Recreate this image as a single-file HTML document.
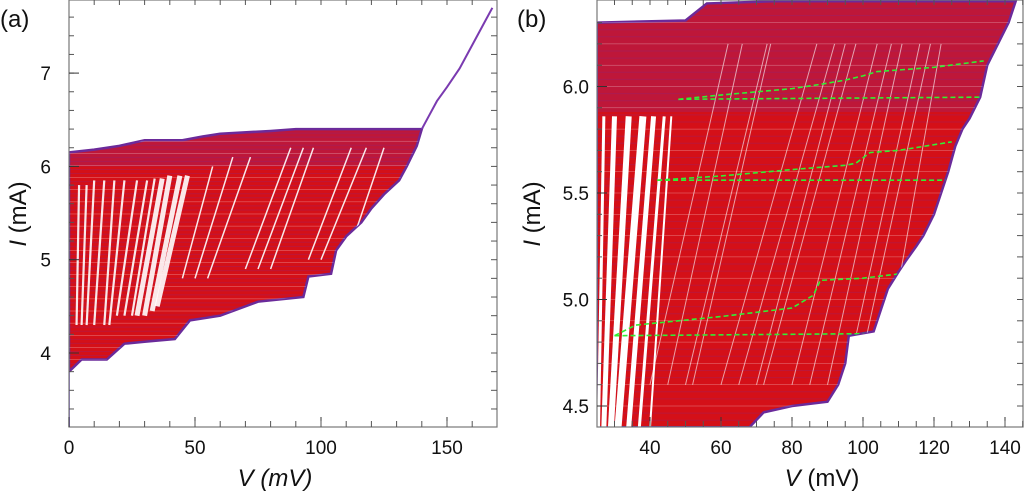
<!DOCTYPE html>
<html><head><meta charset="utf-8">
<style>
body{margin:0;background:#fff;width:1024px;height:496px;overflow:hidden;font-family:"Liberation Sans",sans-serif}
svg{display:block}
text{font-family:"Liberation Sans",sans-serif;fill:#111}
</style></head>
<body>
<svg id="s" width="1024" height="496" viewBox="0 0 1024 496">
<defs>
<clipPath id="ca"><rect x="69" y="0" width="428" height="427"/></clipPath>
<clipPath id="cb"><rect x="597" y="0" width="426" height="427"/></clipPath>
</defs>
<g id="pa"></g>
<g id="pb"></g>
</svg>
<script>
// ---- Panel (a) data ----
const aXTicks=[0,50,100,150];
const aYTicks=[4,5,6,7];
const aRegionV=[0,10,20,30,45,53,60,80,90,140,138,134,131,125,120,116,110,106,104,95,93,75,60,48,42,30,22,15,5,0];
const aRegionI=[6.15,6.18,6.22,6.28,6.28,6.32,6.35,6.38,6.4,6.4,6.22,6.0,5.85,5.7,5.55,5.4,5.25,5.1,4.85,4.82,4.6,4.55,4.4,4.35,4.15,4.12,4.1,3.93,3.93,3.8];
const aTailV=[140,143,146,150,155,160,165,168];
const aTailI=[6.4,6.55,6.7,6.85,7.05,7.3,7.55,7.7];
const aStripeTopV=[4,7,10,14,18,22,27,31,34,37,40,44,47,57,65,72,88,93,97,112,118,125];
const aStripeBotV=[3,5,7,10,14,16,19,22,25,27,30,33,35,45,50,55,70,75,80,95,100,110];
const aStripeTopI=[5.8,5.8,5.85,5.85,5.85,5.85,5.85,5.85,5.87,5.87,5.9,5.9,5.9,6.0,6.1,6.1,6.2,6.2,6.2,6.2,6.2,6.2];
const aStripeBotI=[4.3,4.3,4.3,4.3,4.3,4.3,4.4,4.4,4.4,4.4,4.4,4.45,4.5,4.8,4.8,4.8,4.9,4.9,4.9,5.0,5.0,5.0];
// ---- Panel (b) data ----
const bXTicks=[40,60,80,100,120,140];
const bYTicks=[4.5,5.0,5.5,6.0];
const bRegionV=[25,50,56,75,90,100,143,141,138,135,133,130,128,126,124,122,120,117,115,112,110,107,105,103,96,95,93,90,80,72,68,25];
const bRegionI=[6.3,6.31,6.39,6.4,6.4,6.4,6.4,6.3,6.2,6.1,5.95,5.85,5.8,5.72,5.6,5.5,5.4,5.3,5.25,5.18,5.13,5.05,4.95,4.85,4.83,4.7,4.6,4.52,4.5,4.47,4.4,4.4];
const bGapTopV=[27,30,34,38,41,44,46];
const bGapBotV=[25.5,27,29,31,34,37,40];
const bGapW=[3,5,6,7,5,3,2];
const bThinTopV=[62,66,73,74,87,92,95,98,104,108,111,116,119,122];
const bThinBotV=[40,45,50,52,60,65,70,72,80,85,90,95,98,105];
const bGreenV=[[48,60,80,88,95,100,104,120,134],[48,134],[42,60,80,95,98,102,110,125],[42,124],[30,36,60,80,86,88,100,110],[30,104]];
const bGreenI=[[5.94,5.96,5.99,6.01,6.03,6.05,6.07,6.09,6.12],[5.94,5.95],[5.56,5.58,5.61,5.63,5.64,5.69,5.70,5.74],[5.56,5.56],[4.83,4.88,4.92,4.96,5.02,5.09,5.10,5.12],[4.83,4.84]];

const NS="http://www.w3.org/2000/svg";
function mk(parent,tag,attrs){const e=document.createElementNS(NS,tag);for(const k in attrs)e.setAttribute(k,attrs[k]);parent.appendChild(e);return e;}
const defs=document.querySelector('defs');

function panel(g,cfg){
  const x=v=>cfg.x0+(v-cfg.v0)*cfg.kx, y=i=>cfg.y0-(i-cfg.i0)*cfg.ky;
  const data=mk(g,'g',{'clip-path':cfg.clip});
  
  
  let pts=cfg.rv.map((v,k)=>x(v)+','+y(cfg.ri[k])).join(' ');
  const cp=mk(defs,'clipPath',{id:cfg.id+'r'});
  mk(cp,'polygon',{points:pts});
  const poly=mk(data,'polygon',{points:pts,fill:'#d41018',stroke:'#6a2a9a','stroke-width':2.5});
  
  
  const inner=mk(data,'g',{'clip-path':'url(#'+cfg.id+'r)'});
  
  
  const band=mk(inner,'rect',{x:cfg.fx,y:0,width:cfg.fw,height:y(cfg.hb0),fill:'#7a2a9a',opacity:0.25});
  
  
  for(let k=0;k<60;k++){
    const iv=cfg.lb0+(cfg.hb1-cfg.lb0)*k/60;
    const l=mk(inner,'line',{x1:cfg.fx,x2:cfg.fx+430,y1:y(iv),y2:y(iv),stroke:k%3?'#7a2a9a':'#fff','stroke-width':k%3?1:0.5,opacity:k%3?0.25:0.45});
    
    
  }
  cfg.extra(inner,x,y,data);
  const fr=mk(g,'rect',{x:cfg.fx,y:0,width:cfg.fw,height:427,fill:'none',stroke:'#777','stroke-width':1.2});
  
  
  cfg.xt.forEach(v=>{
    const px=x(v);
    const t=mk(g,'line',{x1:px,x2:px,y1:427,y2:417,stroke:'#333'});
    
    
    const tl=mk(g,'text',{x:px,y:454,'font-size':19,'text-anchor':'middle'});
    tl.textContent=cfg.xfmt(v);
    
    
  });
  for(let v=cfg.xm0;v<=cfg.xm1;v+=cfg.xms){const px=x(v);if(px>cfg.fx&&px<cfg.fx+cfg.fw){const t=mk(g,'line',{x1:px,x2:px,y1:427,y2:421,stroke:'#555'});const t2=mk(g,'line',{x1:px,x2:px,y1:0,y2:5,stroke:'#555'});}}
  for(let i=cfg.ym0;i<=cfg.ym1+1e-9;i+=cfg.yms){const py=y(i);if(py>2&&py<425){const t=mk(g,'line',{x1:cfg.fx,x2:cfg.fx+5,y1:py,y2:py,stroke:'#555'});const t2=mk(g,'line',{x1:cfg.fx+cfg.fw-6,x2:cfg.fx+cfg.fw,y1:py,y2:py,stroke:'#555'});}}
  cfg.yt.forEach(i=>{
    const py=y(i);
    const t=mk(g,'line',{x1:cfg.fx,x2:cfg.fx+10,y1:py,y2:py,stroke:'#333'});
    
    
    const tl=mk(g,'text',{x:cfg.fx-cfg.tlo,y:py+7,'font-size':19,'text-anchor':'end'});
    tl.textContent=cfg.yfmt(i);
    
    
  });
  const xl=mk(g,'text',{x:cfg.xlx,y:486,'font-size':24,'text-anchor':'middle'});
  xl.innerHTML=cfg.xlabel;
  
  
  const yl=mk(g,'text',{x:0,y:0,'font-size':24,'text-anchor':'middle',transform:`translate(${cfg.ylx},214) rotate(-90)`});
  yl.innerHTML='<tspan font-style="italic">I</tspan> (mA)';
  
  
  const pl=mk(g,'text',{x:cfg.plx,y:27,'font-size':24});
  pl.textContent=cfg.plabel;
  
  
}

panel(document.getElementById('pa'),{
  id:'a',x0:69,v0:0,kx:2.52,y0:353,i0:4,ky:93.3,clip:'url(#ca)',fx:69,fw:428,tlo:18,
  rv:aRegionV,ri:aRegionI,hb0:6.0,hb1:6.4,lb0:3.8,
  xt:aXTicks,yt:aYTicks,xfmt:v=>v,yfmt:v=>v,xm0:0,xm1:170,xms:10,ym0:3.2,ym1:7.7,yms:0.2,
  xlabel:'<tspan font-style="italic">V (mV)</tspan>',xlx:275,ylx:26,plx:0,plabel:'(a)',
  extra:(d,x,y,outer)=>{
    aStripeTopV.forEach((v,k)=>{
      const l=mk(d,'line',{x1:x(v),y1:y(aStripeTopI[k]),x2:x(aStripeBotV[k]),y2:y(aStripeBotI[k]),stroke:'#fff','stroke-width':k>8&&k<13?5:(k<13?2.2:1.5),opacity:0.9});
      
      
    });
    const t=mk(outer,'polyline',{points:aTailV.map((v,k)=>x(v)+','+y(aTailI[k])).join(' '),fill:'none',stroke:'#7a3ab0','stroke-width':2});
    
    
    const z=mk(outer,'line',{x1:x(0),y1:y(3.8),x2:x(0),y2:427,stroke:'#9a80e0','stroke-width':2});
    
    
  }
});

panel(document.getElementById('pb'),{
  id:'b',x0:650,v0:40,kx:3.55,y0:406,i0:4.5,ky:213,clip:'url(#cb)',fx:597,fw:426,tlo:8,
  rv:bRegionV,ri:bRegionI,hb0:5.88,hb1:6.4,lb0:4.4,
  xt:bXTicks,yt:bYTicks,xfmt:v=>v,yfmt:v=>v.toFixed(1),xm0:30,xm1:145,xms:5,ym0:4.4,ym1:6.4,yms:0.1,
  xlabel:'<tspan font-style="italic">V</tspan> (mV)',xlx:822,ylx:540,plx:517,plabel:'(b)',
  extra:(d,x,y)=>{
    bGapTopV.forEach((v,k)=>{
      const l=mk(d,'line',{x1:x(v),y1:y(5.86),x2:x(bGapBotV[k]),y2:y(4.4),stroke:'#fff','stroke-width':bGapW[k]});
      
      
    });
    bThinTopV.forEach((v,k)=>{
      const l=mk(d,'line',{x1:x(v),y1:y(6.2),x2:x(bThinBotV[k]),y2:y(4.6),stroke:'#fff','stroke-width':1,opacity:0.6});
      
      
    });
    bGreenV.forEach((vs,k)=>{
      const l=mk(d,'polyline',{points:vs.map((v,j)=>x(v)+','+y(bGreenI[k][j])).join(' '),fill:'none',stroke:'#33ee33','stroke-width':1.6,'stroke-dasharray':'5 3'});
      
      
    });
  }
});
</script>
</body></html>
